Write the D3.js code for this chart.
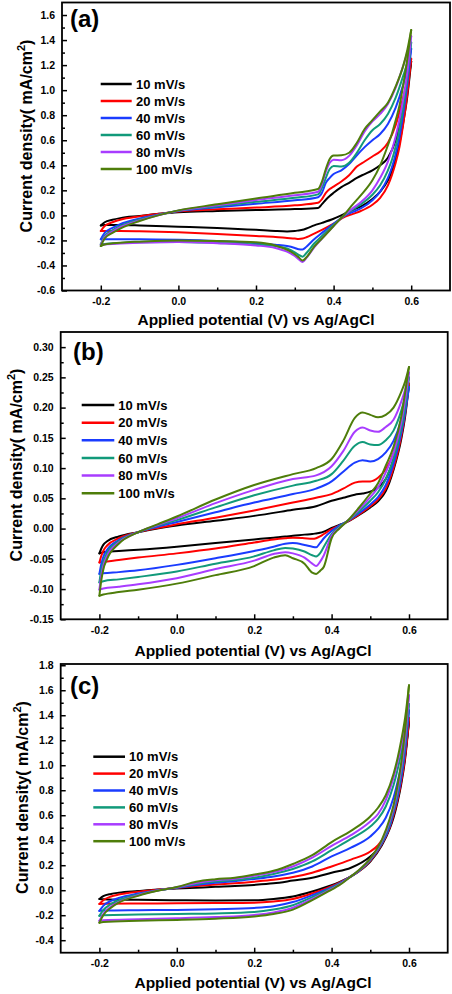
<!DOCTYPE html>
<html><head><meta charset="utf-8">
<script src="https://cdn.jsdelivr.net/npm/d3@7"></script>
<style>
html,body{margin:0;padding:0;background:#fff;}
svg{display:block;}
text{font-family:"Liberation Sans",Arial,sans-serif;font-weight:bold;fill:#000;}
</style></head><body>
<svg id="chart" width="452" height="994"></svg>
<script>
// ---------- shared ----------
const rates = ["10 mV/s","20 mV/s","40 mV/s","60 mV/s","80 mV/s","100 mV/s"];
const colors = ["#000000","#ff0000","#1a3cff","#119a7a","#a83cff","#4e7d0a"];
const xTicks = [-0.2,0,0.2,0.4,0.6];
const xMinor = [-0.1,0.1,0.3,0.5];

// ---------- panel (a) ----------
const yTicksA = [-0.6,-0.4,-0.2,0,0.2,0.4,0.6,0.8,1.0,1.2,1.4,1.6];
const yMinorA = [-0.5,-0.3,-0.1,0.1,0.3,0.5,0.7,0.9,1.1,1.3,1.5];
const potA_up = [-0.2,-0.19,-0.17,-0.15,-0.1,-0.05,0,0.1,0.2,0.3,0.36,0.37,0.38,0.39,0.4,0.42,0.44,0.46,0.48,0.5,0.52,0.54,0.56,0.58,0.59,0.6];
const curA_up = [
 [-0.08,-0.055,-0.035,-0.022,-0.005,0.012,0.025,0.035,0.043,0.05,0.058,0.09,0.125,0.155,0.18,0.225,0.26,0.3,0.33,0.36,0.4,0.46,0.6,0.86,1.03,1.23],
 [-0.125,-0.085,-0.055,-0.035,-0.008,0.012,0.03,0.048,0.062,0.08,0.1,0.13,0.18,0.21,0.23,0.27,0.32,0.39,0.43,0.47,0.51,0.58,0.72,0.95,1.08,1.25],
 [-0.19,-0.14,-0.1,-0.07,-0.025,0.008,0.035,0.065,0.093,0.12,0.145,0.18,0.26,0.3,0.33,0.36,0.41,0.48,0.545,0.6,0.65,0.73,0.86,1.05,1.17,1.33],
 [-0.23,-0.165,-0.12,-0.085,-0.033,0.005,0.037,0.073,0.108,0.14,0.168,0.22,0.3,0.37,0.395,0.39,0.42,0.5,0.6,0.68,0.73,0.81,0.94,1.12,1.22,1.38],
 [-0.235,-0.175,-0.13,-0.095,-0.04,0.003,0.038,0.08,0.122,0.16,0.188,0.25,0.35,0.42,0.445,0.44,0.475,0.56,0.67,0.75,0.81,0.89,1.02,1.2,1.3,1.43],
 [-0.245,-0.185,-0.14,-0.105,-0.045,0.002,0.04,0.088,0.135,0.18,0.21,0.27,0.37,0.45,0.478,0.48,0.5,0.58,0.69,0.76,0.83,0.9,1.03,1.2,1.32,1.48]
];
const potA_dn = [0.6,0.59,0.58,0.57,0.56,0.55,0.54,0.52,0.5,0.47,0.45,0.43,0.4,0.37,0.35,0.33,0.32,0.31,0.3,0.28,0.25,0.2,0.1,0,-0.1,-0.15,-0.19,-0.2];
const curA_dn = [
 [1.23,0.95,0.75,0.58,0.45,0.35,0.28,0.19,0.13,0.07,0.045,0.015,-0.027,-0.06,-0.08,-0.105,-0.115,-0.12,-0.125,-0.128,-0.125,-0.115,-0.1,-0.09,-0.08,-0.077,-0.077,-0.08],
 [1.25,0.97,0.74,0.55,0.42,0.32,0.24,0.14,0.085,0.035,0.012,-0.01,-0.065,-0.115,-0.145,-0.175,-0.185,-0.188,-0.185,-0.18,-0.172,-0.165,-0.148,-0.135,-0.127,-0.125,-0.125,-0.125],
 [1.33,1.05,0.82,0.63,0.49,0.38,0.3,0.19,0.12,0.055,0.028,0.0,-0.067,-0.14,-0.19,-0.25,-0.272,-0.27,-0.26,-0.245,-0.235,-0.222,-0.205,-0.195,-0.19,-0.19,-0.19,-0.19],
 [1.38,1.1,0.87,0.69,0.55,0.44,0.36,0.24,0.165,0.088,0.048,0.005,-0.075,-0.165,-0.225,-0.3,-0.33,-0.315,-0.295,-0.265,-0.245,-0.232,-0.22,-0.212,-0.215,-0.22,-0.228,-0.23],
 [1.43,1.14,0.94,0.77,0.63,0.52,0.43,0.3,0.2,0.105,0.058,0.008,-0.085,-0.185,-0.255,-0.34,-0.372,-0.35,-0.325,-0.29,-0.26,-0.24,-0.222,-0.212,-0.218,-0.225,-0.232,-0.235],
 [1.48,1.25,1.05,0.88,0.76,0.65,0.56,0.4,0.28,0.16,0.09,0.015,-0.085,-0.185,-0.25,-0.335,-0.36,-0.335,-0.31,-0.275,-0.24,-0.215,-0.205,-0.2,-0.21,-0.218,-0.232,-0.245]
];

// ---------- panel (b) ----------
const yTicksB = [-0.15,-0.1,-0.05,0,0.05,0.1,0.15,0.2,0.25,0.3];
const yMinorB = [-0.125,-0.075,-0.025,0.025,0.075,0.125,0.175,0.225,0.275];
const potB_up = [-0.2,-0.195,-0.19,-0.18,-0.15,-0.1,-0.05,0,0.1,0.2,0.3,0.36,0.4,0.43,0.46,0.48,0.5,0.52,0.54,0.56,0.58,0.59,0.6];
const curB_up = [
 [-0.041,-0.033,-0.027,-0.021,-0.013,-0.006,0.0,0.005,0.013,0.021,0.031,0.037,0.046,0.051,0.056,0.058,0.061,0.068,0.082,0.115,0.165,0.2,0.238],
 [-0.056,-0.045,-0.037,-0.028,-0.016,-0.006,0.001,0.007,0.018,0.03,0.043,0.051,0.057,0.066,0.076,0.078,0.078,0.084,0.098,0.125,0.17,0.2,0.24],
 [-0.075,-0.058,-0.047,-0.035,-0.019,-0.006,0.003,0.011,0.027,0.043,0.057,0.066,0.078,0.094,0.109,0.113,0.111,0.115,0.126,0.145,0.18,0.205,0.234],
 [-0.089,-0.068,-0.055,-0.04,-0.021,-0.006,0.005,0.014,0.035,0.055,0.071,0.079,0.09,0.112,0.137,0.143,0.139,0.138,0.146,0.162,0.195,0.218,0.25],
 [-0.101,-0.077,-0.062,-0.045,-0.023,-0.006,0.006,0.017,0.042,0.064,0.082,0.088,0.103,0.128,0.16,0.167,0.162,0.16,0.168,0.18,0.21,0.23,0.258],
 [-0.111,-0.085,-0.068,-0.05,-0.025,-0.006,0.007,0.02,0.048,0.072,0.09,0.1,0.115,0.145,0.183,0.192,0.188,0.184,0.188,0.2,0.226,0.243,0.267]
];
const potB_dn = [0.6,0.59,0.58,0.56,0.54,0.52,0.5,0.47,0.44,0.42,0.4,0.38,0.37,0.36,0.35,0.33,0.3,0.28,0.25,0.2,0.1,0,-0.1,-0.15,-0.19,-0.2];
const curB_dn = [
 [0.238,0.185,0.148,0.097,0.062,0.045,0.035,0.022,0.011,0.006,0.001,-0.005,-0.007,-0.008,-0.009,-0.01,-0.012,-0.013,-0.015,-0.018,-0.024,-0.03,-0.035,-0.037,-0.039,-0.041],
 [0.24,0.19,0.152,0.1,0.066,0.048,0.037,0.023,0.011,0.005,-0.001,-0.009,-0.013,-0.016,-0.017,-0.016,-0.015,-0.016,-0.018,-0.023,-0.033,-0.041,-0.048,-0.052,-0.055,-0.056],
 [0.234,0.192,0.158,0.107,0.072,0.052,0.04,0.025,0.012,0.005,-0.004,-0.016,-0.024,-0.031,-0.03,-0.027,-0.024,-0.025,-0.03,-0.037,-0.049,-0.06,-0.069,-0.072,-0.074,-0.075],
 [0.25,0.2,0.165,0.115,0.082,0.06,0.046,0.028,0.012,0.003,-0.009,-0.03,-0.041,-0.046,-0.044,-0.038,-0.033,-0.032,-0.036,-0.046,-0.058,-0.071,-0.08,-0.084,-0.087,-0.089],
 [0.258,0.212,0.175,0.125,0.093,0.068,0.052,0.031,0.012,0.001,-0.012,-0.044,-0.055,-0.062,-0.058,-0.048,-0.041,-0.039,-0.042,-0.053,-0.067,-0.082,-0.092,-0.096,-0.099,-0.101],
 [0.267,0.225,0.185,0.135,0.104,0.075,0.058,0.034,0.012,0.0,-0.016,-0.063,-0.07,-0.075,-0.073,-0.058,-0.049,-0.044,-0.048,-0.062,-0.077,-0.091,-0.101,-0.105,-0.109,-0.111]
];

// ---------- panel (c) ----------
const yTicksC = [-0.4,-0.2,0,0.2,0.4,0.6,0.8,1.0,1.2,1.4,1.6,1.8];
const yMinorC = [-0.3,-0.1,0.1,0.3,0.5,0.7,0.9,1.1,1.3,1.5,1.7];
const potC_up = [-0.2,-0.19,-0.17,-0.15,-0.1,-0.05,0,0.05,0.1,0.15,0.2,0.25,0.3,0.35,0.4,0.45,0.5,0.52,0.54,0.56,0.57,0.58,0.59,0.6];
const curC_up = [
 [-0.07,-0.048,-0.03,-0.02,-0.007,0.005,0.013,0.02,0.027,0.033,0.042,0.055,0.077,0.1,0.14,0.18,0.27,0.33,0.43,0.6,0.72,0.88,1.08,1.35],
 [-0.11,-0.08,-0.05,-0.035,-0.013,0.003,0.018,0.033,0.045,0.055,0.068,0.083,0.105,0.14,0.19,0.245,0.31,0.36,0.45,0.62,0.74,0.9,1.1,1.38],
 [-0.165,-0.125,-0.085,-0.062,-0.027,0.0,0.02,0.042,0.06,0.072,0.09,0.11,0.14,0.19,0.27,0.34,0.43,0.49,0.58,0.74,0.86,1.0,1.18,1.44],
 [-0.205,-0.16,-0.11,-0.08,-0.035,-0.002,0.022,0.05,0.07,0.082,0.1,0.13,0.17,0.23,0.32,0.41,0.51,0.57,0.67,0.84,0.96,1.1,1.27,1.49],
 [-0.245,-0.19,-0.13,-0.095,-0.04,-0.003,0.024,0.058,0.08,0.092,0.115,0.145,0.19,0.26,0.355,0.44,0.55,0.61,0.72,0.9,1.02,1.16,1.33,1.56],
 [-0.26,-0.2,-0.14,-0.1,-0.045,-0.005,0.025,0.068,0.088,0.1,0.125,0.155,0.21,0.28,0.385,0.475,0.59,0.66,0.76,0.93,1.05,1.2,1.38,1.64]
];
const potC_dn = [0.6,0.59,0.58,0.57,0.56,0.55,0.53,0.5,0.47,0.45,0.42,0.4,0.35,0.3,0.25,0.2,0.1,0,-0.1,-0.19,-0.2];
const curC_dn = [
 [1.35,1.05,0.85,0.7,0.58,0.49,0.36,0.23,0.15,0.11,0.065,0.04,-0.01,-0.05,-0.07,-0.08,-0.082,-0.08,-0.077,-0.072,-0.07],
 [1.38,1.07,0.87,0.72,0.6,0.5,0.37,0.235,0.15,0.11,0.06,0.032,-0.025,-0.07,-0.09,-0.1,-0.103,-0.105,-0.106,-0.108,-0.11],
 [1.44,1.12,0.9,0.74,0.62,0.51,0.375,0.24,0.152,0.11,0.055,0.025,-0.04,-0.095,-0.128,-0.142,-0.152,-0.158,-0.16,-0.163,-0.165],
 [1.49,1.17,0.94,0.77,0.64,0.53,0.385,0.245,0.155,0.11,0.05,0.018,-0.055,-0.12,-0.155,-0.175,-0.186,-0.19,-0.195,-0.2,-0.205],
 [1.56,1.22,0.98,0.8,0.66,0.55,0.395,0.25,0.157,0.11,0.045,0.01,-0.07,-0.14,-0.178,-0.198,-0.215,-0.225,-0.232,-0.24,-0.245],
 [1.64,1.28,1.02,0.83,0.68,0.57,0.405,0.255,0.16,0.11,0.04,0.005,-0.08,-0.155,-0.19,-0.21,-0.228,-0.238,-0.245,-0.255,-0.26]
];

// ---------- drawing ----------
const svg = d3.select("#chart");

const panels = [
 {label:"(a)", l:62, r:450, t:2.5, b:290.5, yDom:[-0.6,1.7], yT:yTicksA, yM:yMinorA, dec:1,
  up:[potA_up,curA_up], dn:[potA_dn,curA_dn],
  lab:[70,27], leg:{x1:100.7,x2:131.7,y0:84,dy:17,tx:136},
  yTitle:[32,136], xTitle:[256,324.5]},
 {label:"(b)", l:60.7, r:447.7, t:332, b:619.3, yDom:[-0.15,0.325], yT:yTicksB, yM:yMinorB, dec:2,
  up:[potB_up,curB_up], dn:[potB_dn,curB_dn],
  lab:[73,360], leg:{x1:81.7,x2:114.3,y0:405,dy:17.65,tx:118.3},
  yTitle:[22,465], xTitle:[253,656]},
 {label:"(c)", l:60.7, r:447.7, t:664, b:952.7, yDom:[-0.5,1.81], yT:yTicksC, yM:yMinorC, dec:1,
  up:[potC_up,curC_up], dn:[potC_dn,curC_dn],
  lab:[70,694], leg:{x1:93.3,x2:125,y0:756.7,dy:16.9,tx:129},
  yTitle:[27.5,797.5], xTitle:[253,988]}
];

panels.forEach(p => {
  const x = d3.scaleLinear().domain([-0.3,0.7]).range([p.l,p.r]);
  const y = d3.scaleLinear().domain(p.yDom).range([p.b,p.t]);
  const g = svg.append("g");

  const line = d3.line().x(d=>x(d[0])).y(d=>y(d[1])).curve(d3.curveMonotoneX);

  rates.forEach((r,i) => {
    const up = p.up[0].map((v,k)=>[v,p.up[1][i][k]]);
    const dn = p.dn[0].map((v,k)=>[v,p.dn[1][i][k]]).sort((a,b)=>a[0]-b[0]);
    [up,dn].forEach(pts => {
      g.append("path").attr("d",line(pts)).attr("fill","none")
        .attr("stroke",colors[i]).attr("stroke-width",2)
        .attr("stroke-linejoin","round").attr("stroke-linecap","round");
    });
  });

  // frame
  g.append("rect").attr("x",p.l).attr("y",p.t).attr("width",p.r-p.l).attr("height",p.b-p.t)
    .attr("fill","none").attr("stroke","#000").attr("stroke-width",1.8);

  const fmt = d => d.toFixed(p.dec);
  // axes
  const xa = g.append("g").attr("transform",`translate(0,${p.b})`)
    .call(d3.axisBottom(x).tickValues(xTicks).tickSize(-5).tickPadding(7).tickFormat(d=>d.toFixed(1)));
  const xm = g.append("g").attr("transform",`translate(0,${p.b})`)
    .call(d3.axisBottom(x).tickValues(xMinor).tickSize(-3).tickFormat(""));
  const ya = g.append("g").attr("transform",`translate(${p.l},0)`)
    .call(d3.axisLeft(y).tickValues(p.yT).tickSize(-5).tickPadding(7).tickFormat(fmt));
  const ym = g.append("g").attr("transform",`translate(${p.l},0)`)
    .call(d3.axisLeft(y).tickValues(p.yM).tickSize(-3).tickFormat(""));
  [xa,xm,ya,ym].forEach(a => {
    a.select(".domain").remove();
    a.selectAll("line").attr("stroke","#000").attr("stroke-width",1.5);
    a.selectAll("text").attr("font-family",null).attr("font-size",10.5).style("font-weight","bold");
  });

  // panel label
  g.append("text").attr("x",p.lab[0]).attr("y",p.lab[1]).attr("font-size",24).text(p.label);

  // legend
  rates.forEach((r,i) => {
    const yy = p.leg.y0 + i*p.leg.dy;
    g.append("line").attr("x1",p.leg.x1).attr("x2",p.leg.x2).attr("y1",yy).attr("y2",yy)
      .attr("stroke",colors[i]).attr("stroke-width",2.5);
    g.append("text").attr("x",p.leg.tx).attr("y",yy).attr("dy","0.36em")
      .attr("font-size",13).text(r);
  });

  // axis titles
  g.append("text").attr("x",p.xTitle[0]).attr("y",p.xTitle[1]).attr("text-anchor","middle")
    .attr("font-size",15.5).text("Applied potential (V) vs Ag/AgCl");
  const yt = g.append("text").attr("transform",`translate(${p.yTitle[0]},${p.yTitle[1]}) rotate(-90)`)
    .attr("text-anchor","middle").attr("font-size",16);
  yt.append("tspan").text("Current density( mA/cm");
  yt.append("tspan").attr("font-size",11).attr("dy",-7).text("2");
  yt.append("tspan").attr("dy",7).text(")");
});
</script>
</body></html>
